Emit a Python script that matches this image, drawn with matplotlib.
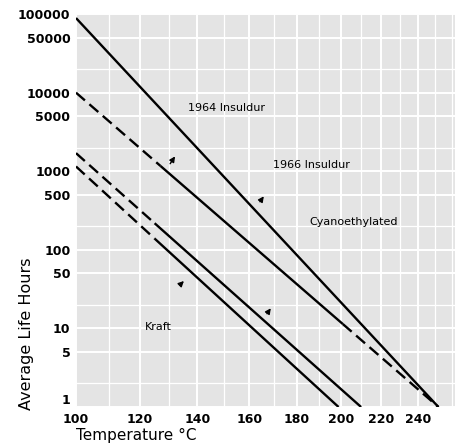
import numpy as np
import matplotlib.pyplot as plt
from matplotlib.ticker import FixedLocator, NullFormatter

# tick values
x_ticks = [100, 120, 140, 160, 180, 200, 220, 240]
y_ticks = [1, 5, 10, 50, 100, 500, 1000, 5000, 10000, 50000, 100000]
y_labels = ["1", "5", "10", "50", "100", "500", "1000", "5000", "10000", "50000", "100000"]

# life lines (temperature C, hours), with style of each segment
line1_temp = [100, 252]
line1_hours = [89000, 1]
line1_style = ["-"]

line2_temp = [100, 127, 201, 252]
line2_hours = [10000, 1168, 11.4, 1]
line2_style = ["--", "-", "--"]

line3_temp = [100, 125, 210]
line3_hours = [1700, 218, 1]
line3_style = ["--", "-"]

line4_temp = [100, 125, 199]
line4_hours = [1150, 139, 1]
line4_style = ["--", "-"]

lines = [
    (line1_temp, line1_hours, line1_style),
    (line2_temp, line2_hours, line2_style),
    (line3_temp, line3_hours, line3_style),
    (line4_temp, line4_hours, line4_style),
]


# reciprocal absolute temperature axis (Arrhenius plot)
def fwd(t):
    return -1000.0 / (np.asarray(t, dtype=float) + 273.15)


def inv(v):
    return -1000.0 / np.asarray(v, dtype=float) - 273.15


fig = plt.figure(figsize=(4.62, 4.44), dpi=100)
ax = fig.add_axes([0.1645, 0.0833, 0.8205, 0.885])
ax.set_facecolor("#e4e4e4")

ax.set_xscale("function", functions=(fwd, inv))
ax.set_yscale("log")
ax.set_xlim(100, 262)
ax.set_ylim(1, 100000)

# background grid like the printed graph paper
ax.xaxis.set_minor_locator(FixedLocator(list(range(100, 270, 10))))
ax.yaxis.set_minor_locator(FixedLocator([m * 10 ** e for e in range(0, 5) for m in (2, 5)]))
ax.yaxis.set_minor_formatter(NullFormatter())
ax.xaxis.set_minor_formatter(NullFormatter())
ax.grid(True, which="major", color="white", linewidth=1.4)
ax.grid(True, which="minor", color="white", linewidth=0.9)
ax.set_axisbelow(True)

for temps, hours, styles in lines:
    for i, ls in enumerate(styles):
        ax.plot(temps[i:i + 2], hours[i:i + 2], color="black", linewidth=1.7,
                linestyle=ls, dashes=(5, 2.5) if ls == "--" else (None, None),
                solid_capstyle="butt")

ax.set_xticks(x_ticks)
ax.set_xticklabels([str(t) for t in x_ticks], fontsize=9, fontweight="bold")
ax.set_yticks(y_ticks)
ax.set_yticklabels(y_labels, fontsize=9, fontweight="bold")
ax.get_yticklabels()[0].set_va("bottom")
ax.tick_params(which="both", length=0, pad=4)
for s in ax.spines.values():
    s.set_visible(False)

ax.set_xlabel("Temperature °C", fontsize=11, loc="left", labelpad=2)
fig.text(27 / 462, 1 - 410 / 444, "Average Life Hours", fontsize=11.5,
         rotation=90, ha="center", va="bottom")

# curve labels
ax.text(151, 6370, "1964 Insuldur", fontsize=8, ha="center", va="center")
ax.text(186.5, 1200, "1966 Insuldur", fontsize=8, ha="center", va="center")
ax.text(206.4, 226, "Cyanoethylated", fontsize=8, ha="center", va="center")
ax.text(126.3, 10.4, "Kraft", fontsize=8, ha="center", va="center")

arrow = dict(arrowstyle="-|>", color="black", linewidth=1.0, mutation_scale=8)
ax.annotate("", xy=(132.6, 1655), xytext=(129.8, 1165), arrowprops=arrow)
ax.annotate("", xy=(166.5, 513), xytext=(163.6, 383), arrowprops=arrow)
ax.annotate("", xy=(135.9, 42.5), xytext=(133.0, 33.6), arrowprops=arrow)
ax.annotate("", xy=(169.4, 19.3), xytext=(166.5, 14.4), arrowprops=arrow)

fig.savefig("out.png", dpi=100)
